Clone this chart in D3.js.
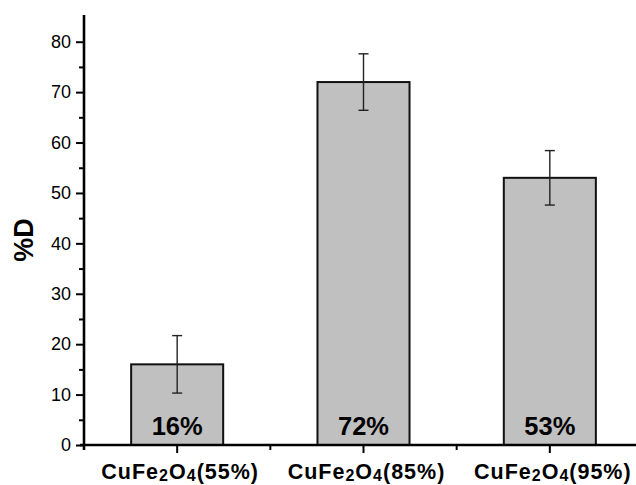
<!DOCTYPE html>
<html>
<head>
<meta charset="utf-8">
<script src="https://cdn.jsdelivr.net/npm/d3@7"></script>
<style>
  body { margin: 0; background: #fff; }
  text { font-family: Arial, "Liberation Sans", sans-serif; fill: #000; }
</style>
</head>
<body>
<svg id="chart" width="636" height="485"></svg>
<script>
// data
var categories = ["55%", "85%", "95%"];
var values = [16, 72, 53];
var errors = [5.7, 5.6, 5.4];
var barLabels = ["16%", "72%", "53%"];
var yTicks = [0, 10, 20, 30, 40, 50, 60, 70, 80];
var yMinorTicks = [5, 15, 25, 35, 45, 55, 65, 75];

var svg = d3.select("#chart");

var x0 = 84, x1 = 643, yBase = 445, yTop = 15;

var x = d3.scaleBand()
    .domain(categories)
    .range([x0, x1])
    .padding(0);

var y = d3.scaleLinear()
    .domain([0, 85.3])
    .range([yBase, yTop]);

var barW = x.bandwidth() * 0.494;

// bars
svg.append("g").selectAll("rect")
    .data(values)
    .enter().append("rect")
    .attr("x", function (d, i) { return x(categories[i]) + (x.bandwidth() - barW) / 2; })
    .attr("y", function (d) { return y(d); })
    .attr("width", barW)
    .attr("height", function (d) { return y(0) - y(d); })
    .attr("fill", "#c0c0c0")
    .attr("stroke", "#111")
    .attr("stroke-width", 2);

// error bars
var eb = svg.append("g")
    .attr("stroke", "#222")
    .attr("stroke-width", 1.4);
values.forEach(function (v, i) {
    var cx = x(categories[i]) + x.bandwidth() / 2;
    eb.append("line")
        .attr("x1", cx).attr("x2", cx)
        .attr("y1", y(v + errors[i])).attr("y2", y(v - errors[i]));
    [v + errors[i], v - errors[i]].forEach(function (e) {
        eb.append("line")
            .attr("x1", cx - 5).attr("x2", cx + 5)
            .attr("y1", y(e)).attr("y2", y(e));
    });
});

// value labels inside bars
svg.append("g").selectAll("text")
    .data(barLabels)
    .enter().append("text")
    .attr("x", function (d, i) { return x(categories[i]) + x.bandwidth() / 2; })
    .attr("y", yBase - 10)
    .attr("text-anchor", "middle")
    .attr("font-size", 25.5)
    .attr("font-weight", "bold")
    .text(function (d) { return d; });

// y axis
var yAxis = svg.append("g")
    .attr("transform", "translate(" + x0 + ",0)")
    .call(d3.axisLeft(y).tickValues(yTicks).tickSize(8).tickPadding(5).tickSizeOuter(0));
yAxis.select(".domain").remove();
yAxis.selectAll(".tick line").attr("stroke", "#000").attr("stroke-width", 2);
yAxis.selectAll(".tick text")
    .attr("font-size", 18)
    .attr("font-family", "Arial, 'Liberation Sans', sans-serif");

var yMinor = svg.append("g")
    .attr("transform", "translate(" + x0 + ",0)")
    .call(d3.axisLeft(y).tickValues(yMinorTicks).tickSize(5).tickFormat(""));
yMinor.select(".domain").remove();
yMinor.selectAll(".tick line").attr("stroke", "#000").attr("stroke-width", 2);

svg.append("line")
    .attr("x1", x0).attr("x2", x0)
    .attr("y1", y(85.3)).attr("y2", yBase + 5)
    .attr("stroke", "#000").attr("stroke-width", 2.6);

// x axis
var xAxis = svg.append("g")
    .attr("transform", "translate(0," + yBase + ")")
    .call(d3.axisBottom(x).tickSize(8).tickSizeOuter(0).tickFormat(""));
xAxis.select(".domain").remove();
xAxis.selectAll(".tick line").attr("stroke", "#000").attr("stroke-width", 2);

svg.append("g").selectAll("line")
    .data(categories.slice(0, -1))
    .enter().append("line")
    .attr("x1", function (d) { return x(d) + x.bandwidth(); })
    .attr("x2", function (d) { return x(d) + x.bandwidth(); })
    .attr("y1", yBase).attr("y2", yBase + 5)
    .attr("stroke", "#000").attr("stroke-width", 2);

svg.append("line")
    .attr("x1", x0 - 4).attr("x2", 636)
    .attr("y1", yBase).attr("y2", yBase)
    .attr("stroke", "#000").attr("stroke-width", 2.6);

// category labels with subscripts
var xl = svg.append("g").selectAll("text")
    .data(categories)
    .enter().append("text")
    .attr("x", function (d) { return x(d) + x.bandwidth() / 2 + 3; })
    .attr("y", 479)
    .attr("text-anchor", "middle")
    .attr("font-size", 21.5)
    .attr("letter-spacing", 1)
    .attr("font-weight", "bold");
xl.append("tspan").text("CuFe");
xl.append("tspan").attr("font-size", 16).attr("dy", 2).text("2");
xl.append("tspan").attr("dy", -2).text("O");
xl.append("tspan").attr("font-size", 16).attr("dy", 2).text("4");
xl.append("tspan").attr("dy", -2).text(function (d) { return "(" + d + ")"; });

// y axis title
svg.append("text")
    .attr("transform", "translate(33," + 240 + ") rotate(-90)")
    .attr("text-anchor", "middle")
    .attr("font-size", 27)
    .attr("font-weight", "bold")
    .text("%D");
</script>
</body>
</html>
